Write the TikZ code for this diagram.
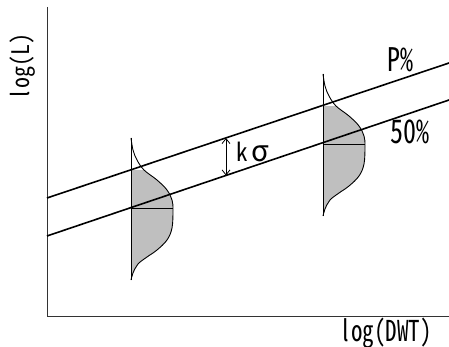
\documentclass[tikz,border=0pt]{standalone}
\usepackage{fontspec}
\newfontfamily\jp[RawFeature=+hwid]{Noto Sans CJK JP}
\newfontfamily\jpp{Noto Sans CJK JP}
\newcommand{\myell}{\makebox[0.5em]{\jpp l}}
\usetikzlibrary{arrows.meta}
\tikzset{
  axis/.style={draw=black!80, line width=0.9pt},
  pline/.style={draw=black, line width=1.6pt},
  dist/.style={draw=black, line width=0.9pt},
  lbl/.style={inner sep=0pt, font=\jp\fontsize{#1}{#1}\selectfont},
}
\begin{document}
\begin{tikzpicture}[x=1pt,y=-1pt]
\useasboundingbox (0,0) rectangle (449,347);
% axes
\coordinate (ytop) at (47,7);
\coordinate (orig) at (47,316);
\coordinate (xend) at (449,316);
\draw[axis] (ytop) -- (orig) -- (xend);
% distributions
\foreach \sx/\sy in {131/208, 323/144}{
\begin{scope}[shift={(\sx,\sy)}]
  \begin{scope}
    \clip (0,-37.5) rectangle (60,80);
    \fill[black!25] plot[smooth,tension=0.6] coordinates {(0,-70) (2,-58) (6,-48) (13,-38) (26,-28) (36,-18) (41,-8) (42,2) (41,20) (36,32) (26,42) (16,49) (7,56) (2,65) (0,72)} -- cycle;
  \end{scope}
  \draw[dist] plot[smooth,tension=0.6] coordinates {(0,-70) (2,-58) (6,-48) (13,-38) (26,-28) (36,-18) (41,-8) (42,2) (41,20) (36,32) (26,42) (16,49) (7,56) (2,65) (0,72)};
  \coordinate (dt) at (0,-70);
  \coordinate (db) at (0,72);
  \coordinate (ml) at (0,0);
  \coordinate (mr) at (42,0);
  \draw[dist] (dt) -- (db);
  \draw[dist] (ml) -- (mr);
\end{scope}
}
% regression lines
\coordinate (pl) at (47,198);
\coordinate (pr) at (449,63);
\coordinate (ml) at (47,236);
\coordinate (mr) at (449,100);
\draw[pline] (pl) -- (pr);
\draw[pline] (ml) -- (mr);
% k sigma arrow
\coordinate (ka) at (226,138);
\coordinate (kb) at (226,175.5);
\draw[line width=0.8pt, {Straight Barb[length=5pt,width=8pt]}-{Straight Barb[length=5pt,width=8pt]}] (ka) -- (kb);
\node[lbl=23, anchor=west] (ks) at (236,152) {\scalebox{1}[1.1]{k}\hspace{4pt}{\jpp\fontsize{29}{29}\selectfont σ}};
% labels
\node[lbl=26] (pp) at (400,60) {\scalebox{1}[1.25]{P\%}};
\node[lbl=26] (pf) at (410,132) {\scalebox{1}[1.25]{50\%}};
\node[lbl=23] (xl) at (386,333) {\scalebox{1}[1.25]{\myell og(DWT)}};
\node[lbl=22, rotate=90] (yl) at (23,67) {\scalebox{1}[1.1]{\myell og(L)}};
\end{tikzpicture}
\end{document}
